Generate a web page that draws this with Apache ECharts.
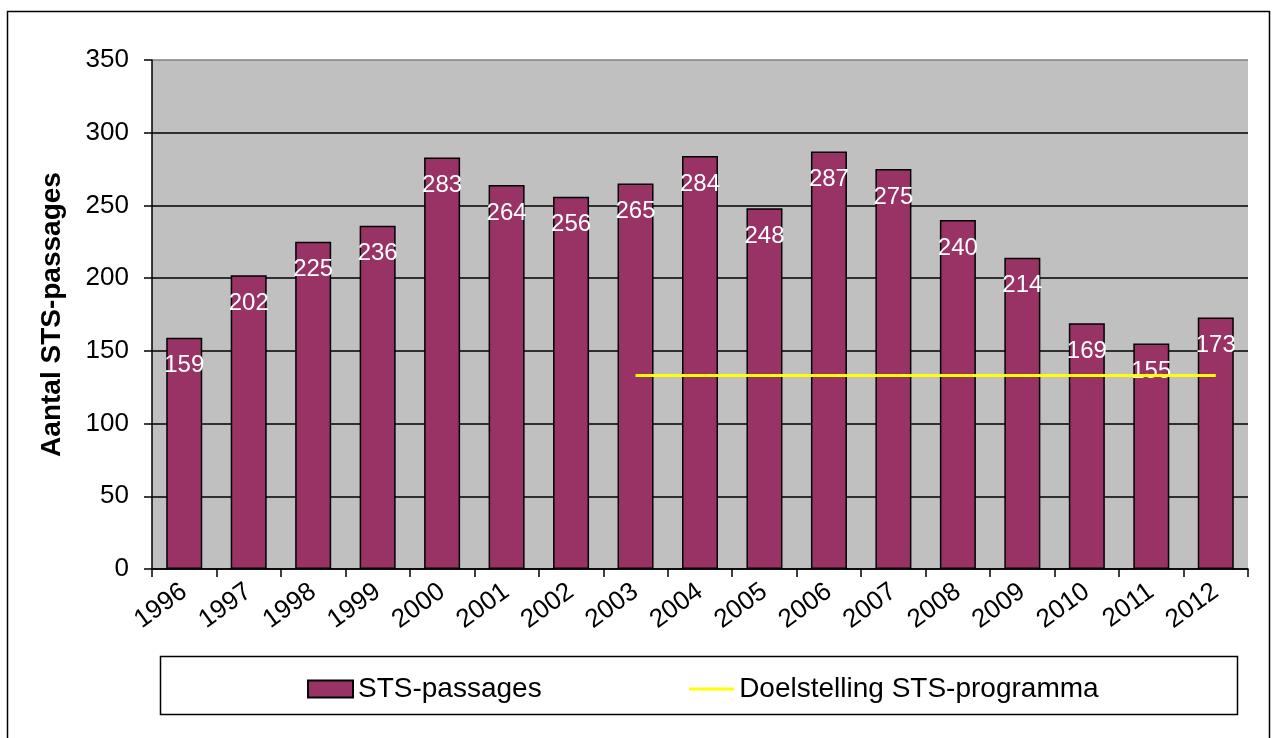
<!DOCTYPE html>
<html>
<head>
<meta charset="utf-8">
<script src="https://cdn.jsdelivr.net/npm/echarts@6/dist/echarts.min.js"></script>
<style>html,body{margin:0;padding:0;background:#fff;}#c{width:1276px;height:738px;}</style>
</head>
<body>
<div id="c"></div>
<script>
const years = ['1996','1997','1998','1999','2000','2001','2002','2003','2004','2005','2006','2007','2008','2009','2010','2011','2012'];
const passages = [159,202,225,236,283,264,256,265,284,248,287,275,240,214,169,155,173];
const target = [null,null,null,null,null,null,null,133,133,133,133,133,133,133,133,133,133];
const yTicks = {min:0, max:350, interval:50};
const FONT = "'Liberation Sans', Arial, sans-serif";

const chart = echarts.init(document.getElementById('c'), null, {renderer:'canvas'});
chart.setOption({
  animation:false,
  backgroundColor:'#fff',
  textStyle:{fontFamily:FONT},
  graphic:[
    {type:'rect', shape:{x:7.5,y:11.5,width:1262,height:740}, style:{fill:'none',stroke:'#000',lineWidth:1.5}, silent:true, z:-1},
    {type:'rect', shape:{x:160.5,y:656.5,width:1077,height:58}, style:{fill:'#fff',stroke:'#000',lineWidth:1.5}, silent:true, z:-1}
  ],
  grid:{left:152, right:28, top:60, bottom:169, show:true, backgroundColor:'#C0C0C0', borderWidth:0},
  legend:{
    left:302, top:670, itemWidth:45, itemHeight:17, itemGap:146,
    textStyle:{fontSize:28, color:'#000', fontFamily:FONT},
    data:[
      {name:'STS-passages', icon:'rect'},
      {name:'Doelstelling STS-programma', itemStyle:{opacity:0}, lineStyle:{color:'#FFFF00', width:3}}
    ]
  },
  xAxis:{
    type:'category', data:years,
    axisLine:{lineStyle:{color:'#000', width:1.5}},
    axisTick:{show:true, length:8, lineStyle:{color:'#000', width:1.5}},
    axisLabel:{rotate:36, fontSize:26, color:'#000', margin:20, fontFamily:FONT}
  },
  yAxis:{
    type:'value', min:yTicks.min, max:yTicks.max, interval:yTicks.interval,
    name:'Aantal STS-passages', nameLocation:'middle', nameGap:86,
    nameTextStyle:{fontSize:28, fontWeight:'bold', color:'#000', fontFamily:FONT},
    axisLine:{show:true, lineStyle:{color:'#000', width:1.5}},
    axisTick:{show:true, length:8, lineStyle:{color:'#000', width:1.5}},
    axisLabel:{fontSize:26, color:'#000', margin:23, fontFamily:FONT},
    splitLine:{show:true, lineStyle:{color:['#000','#000','#000','#000','#000','#000','#000','#808080'], width:1.5}}
  },
  series:[
    {
      name:'STS-passages', type:'bar', data:passages, barWidth:36,
      itemStyle:{color:'#993366', borderColor:'#000', borderWidth:1.5},
      label:{show:true, position:'insideTop', distance:16, color:'#fff', fontSize:24, fontFamily:FONT}
    },
    {
      name:'Doelstelling STS-programma', type:'line', data:target, symbol:'none',
      lineStyle:{color:'#FFFF00', width:3}, itemStyle:{color:'#FFFF00'}, z:5
    }
  ]
});
</script>
</body>
</html>
